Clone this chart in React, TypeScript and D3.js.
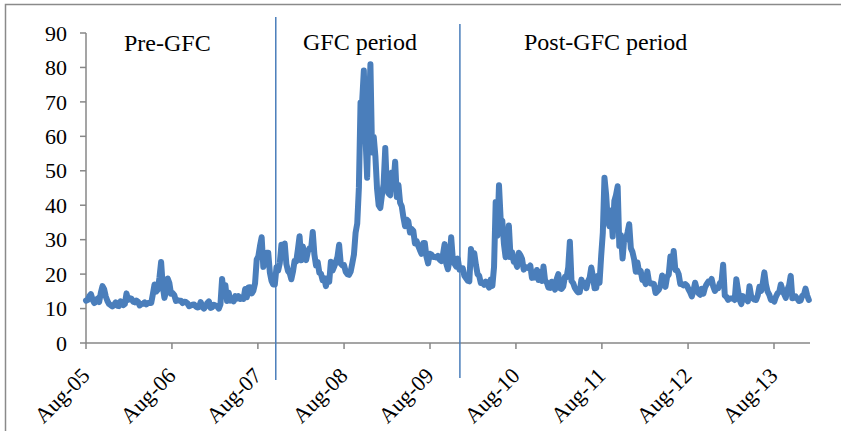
import React from "react";
import * as d3 from "d3";

// Weekly VIX readings, one array per calendar year (first reading date in seriesStarts)
const seriesStarts = ["2005-08-01", "2006-01-06", "2007-01-05", "2008-01-04", "2009-01-02", "2010-01-08", "2011-01-07", "2012-01-06", "2013-01-04"];
const vix2005 = [12.3, 12.5, 13.6, 14.2, 12.6, 11.6, 11.9, 12.9, 11.9, 14.6, 16.5, 15.6, 13.5, 12.2, 11.3, 11.0, 10.6, 11.0, 11.8, 10.8, 10.7, 12.1];
const vix2006 = [11.0, 11.3, 14.4, 12.5, 13.0, 12.9, 12.0, 11.8, 12.3, 12.0, 10.9, 11.3, 11.4, 11.8, 11.2, 11.6, 11.6, 11.6, 14.2, 17.0, 14.9, 15.5, 19.0, 23.5, 16.5, 13.1, 14.8, 18.7, 17.4, 14.3, 14.5, 13.9, 12.2, 12.4, 12.3, 12.3, 11.6, 12.0, 11.9, 11.5, 10.7, 10.9, 11.1, 11.2, 10.6, 10.3, 10.4, 11.9, 10.5, 10.0, 10.6, 11.6];
const vix2007 = [12.1, 10.2, 10.4, 11.1, 10.9, 10.6, 10.0, 11.2, 18.6, 14.2, 16.8, 12.2, 14.6, 12.3, 12.6, 12.1, 13.6, 12.9, 13.6, 12.8, 13.0, 12.8, 15.7, 13.3, 16.1, 16.2, 14.4, 15.2, 17.3, 24.2, 25.2, 28.2, 30.7, 22.1, 23.4, 26.2, 26.2, 20.4, 18.0, 17.0, 17.0, 22.0, 21.0, 23.2, 28.5, 25.5, 28.9, 22.9, 20.9, 20.3, 18.5, 20.7];
const vix2008 = [23.9, 23.7, 27.2, 31.0, 24.0, 28.0, 25.0, 24.1, 26.5, 27.5, 27.3, 32.2, 25.7, 22.5, 23.5, 20.4, 20.1, 18.2, 18.8, 16.5, 18.8, 17.8, 23.6, 21.0, 22.2, 23.4, 25.0, 28.5, 23.0, 22.5, 22.6, 20.7, 20.0, 19.8, 20.7, 23.1, 25.7, 32.0, 34.7, 45.1, 69.9, 70.3, 79.1, 59.9, 48.0, 66.3, 80.9, 55.3, 59.9, 54.3, 44.9, 40.0];
const vix2009 = [39.2, 43.0, 46.1, 56.6, 44.8, 43.4, 42.9, 49.5, 46.4, 52.6, 42.4, 45.9, 40.7, 39.7, 36.5, 33.9, 35.8, 35.3, 32.1, 33.1, 32.6, 28.9, 29.6, 28.2, 27.0, 25.9, 29.0, 29.0, 25.0, 23.1, 25.9, 25.7, 25.0, 25.0, 24.8, 25.3, 24.2, 23.8, 25.6, 28.7, 23.1, 21.4, 24.2, 30.7, 24.2, 23.0, 22.2, 24.5, 21.3, 21.6, 21.7, 19.5];
const vix2010 = [18.1, 17.9, 27.3, 24.6, 26.1, 22.7, 20.0, 19.5, 17.4, 17.6, 16.9, 17.8, 17.0, 16.1, 18.4, 16.6, 22.1, 40.9, 31.2, 45.8, 36.0, 35.5, 28.8, 24.9, 28.5, 34.1, 24.9, 26.3, 23.5, 23.5, 22.1, 26.2, 25.5, 24.4, 21.3, 21.9, 22.0, 21.7, 22.5, 18.9, 19.0, 19.1, 21.2, 18.3, 20.6, 18.0, 22.2, 18.0, 17.6, 16.1, 16.0, 17.8];
const vix2011 = [17.1, 15.5, 18.5, 20.0, 15.9, 15.7, 16.4, 19.2, 19.1, 21.9, 29.4, 18.0, 17.4, 16.0, 15.3, 14.7, 14.8, 18.4, 17.1, 17.4, 15.9, 17.9, 18.9, 21.9, 19.3, 15.9, 15.95, 19.5, 17.5, 25.3, 32.0, 48.0, 43.1, 35.6, 33.9, 38.5, 30.9, 41.3, 42.96, 45.5, 28.2, 31.3, 24.5, 30.5, 30.0, 32.1, 34.5, 27.5, 26.4, 24.3, 20.7, 23.4];
const vix2012 = [20.6, 20.9, 18.3, 18.5, 17.1, 20.8, 17.8, 17.3, 17.3, 17.1, 14.5, 15.0, 15.5, 16.7, 19.6, 17.4, 16.3, 19.2, 19.9, 25.1, 22.0, 26.7, 21.2, 21.1, 20.0, 17.1, 17.1, 16.7, 17.1, 16.7, 15.6, 14.7, 13.5, 15.2, 17.5, 15.6, 14.5, 14.0, 15.7, 14.3, 16.1, 17.1, 17.8, 17.6, 18.6, 16.4, 15.1, 16.0, 15.9, 17.4, 17.8, 22.7];
const vix2013 = [13.8, 13.4, 12.5, 12.9, 12.9, 13.0, 12.5, 18.5, 15.4, 12.6, 11.3, 13.6, 12.7, 13.0, 12.1, 16.5, 13.6, 12.9, 12.6, 12.5, 13.8, 16.3, 15.1, 17.2, 20.5, 16.9, 14.9, 14.0, 12.5, 12.7, 12.0, 13.4, 14.4, 14.8, 17.0, 15.4, 14.2, 13.1, 15.5, 16.7, 19.5, 13.0, 13.1, 13.5, 12.9, 12.2, 12.3, 13.7, 14.0, 15.8, 13.8, 12.5];
const yearlySeries = [vix2005, vix2006, vix2007, vix2008, vix2009, vix2010, vix2011, vix2012, vix2013];

const yTicks = [0, 10, 20, 30, 40, 50, 60, 70, 80, 90];
const xTickDates = ["2005-08-01", "2006-08-01", "2007-08-01", "2008-08-01", "2009-08-01", "2010-08-01", "2011-08-01", "2012-08-01", "2013-08-01"];
const xTickLabels = ["Aug-05", "Aug-06", "Aug-07", "Aug-08", "Aug-09", "Aug-10", "Aug-11", "Aug-12", "Aug-13"];
const periodBreaks = ["2007-10-16", "2009-12-06"];
const periodLabels = ["Pre-GFC", "GFC period", "Post-GFC period"];

const parse = d3.utcParse("%Y-%m-%d");

export default function App() {
  const data: { date: Date; v: number }[] = [];
  yearlySeries.forEach((arr, i) => {
    const s = parse(seriesStarts[i]) as Date;
    arr.forEach((v, k) => data.push({ date: d3.utcDay.offset(s, k * 7), v }));
  });

  const x = d3
    .scaleUtc()
    .domain([parse("2005-08-01") as Date, parse("2013-08-01") as Date])
    .range([86, 774]);
  const xEnd = x(parse("2014-01-01") as Date);
  const y = d3.scaleLinear().domain([0, 90]).range([343, 33]);

  const line = d3
    .line<{ date: Date; v: number }>()
    .x((d) => x(d.date))
    .y((d) => y(d.v));

  const font = "'Liberation Serif', 'Times New Roman', serif";
  const axisColor = "#878787";
  const blue = "#4a7ebb";

  const labelPos = [
    { x: 124, y: 51 },
    { x: 303, y: 49.5 },
    { x: 524, y: 49.5 },
  ];
  const breakTops = [17, 24];
  const breakBottoms = [380, 378];

  return (
    <svg
      width={841}
      height={431}
      style={{ position: "absolute", left: 0, top: 0, background: "#fff" }}
      fontFamily={font}
    >
      <rect x={5.5} y={4.5} width={845} height={440} fill="#fff" stroke="#8a8a8a" strokeWidth={1.5} />
      {/* y axis */}
      <line x1={86} x2={86} y1={y(90)} y2={y(0)} stroke={axisColor} strokeWidth={1.5} />
      {yTicks.map((t) => (
        <g key={t}>
          <line x1={80} x2={86} y1={y(t)} y2={y(t)} stroke={axisColor} strokeWidth={1.5} />
          <text x={67} y={y(t)} dy="0.35em" textAnchor="end" fontSize={22} fill="#000">
            {t}
          </text>
        </g>
      ))}
      {/* x axis */}
      <line x1={86} x2={xEnd} y1={y(0)} y2={y(0)} stroke={axisColor} strokeWidth={1.5} />
      {xTickDates.map((ds, i) => {
        const xx = x(parse(ds) as Date);
        return (
          <g key={ds}>
            <line x1={xx} x2={xx} y1={y(0)} y2={y(0) + 6} stroke={axisColor} strokeWidth={1.5} />
            <text
              transform={`translate(${xx + 5},${377}) rotate(-45)`}
              textAnchor="end"
              fontSize={22}
              fill="#000"
            >
              {xTickLabels[i]}
            </text>
          </g>
        );
      })}
      {/* series */}
      <path
        d={line(data) || ""}
        fill="none"
        stroke={blue}
        strokeWidth={6}
        strokeLinejoin="round"
        strokeLinecap="round"
      />
      {/* period breaks */}
      {periodBreaks.map((ds, i) => {
        const xx = x(parse(ds) as Date);
        return (
          <line key={ds} x1={xx} x2={xx} y1={breakTops[i]} y2={breakBottoms[i]} stroke={blue} strokeWidth={1.5} />
        );
      })}
      {periodLabels.map((t, i) => (
        <text key={t} x={labelPos[i].x} y={labelPos[i].y} fontSize={24} fill="#000">
          {t}
        </text>
      ))}
    </svg>
  );
}
